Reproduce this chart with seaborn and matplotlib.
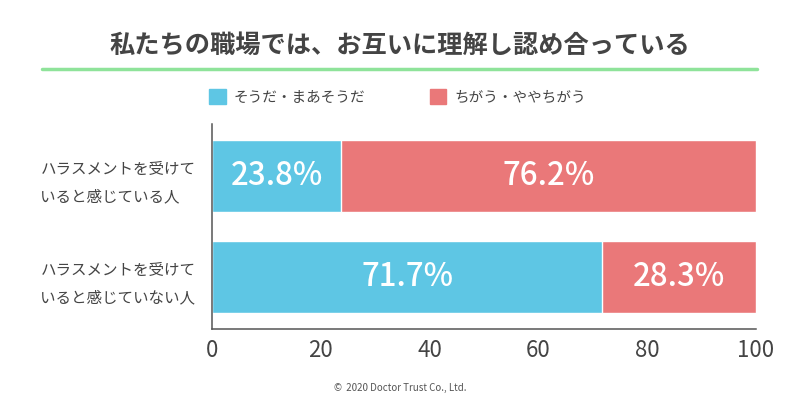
import pandas as pd
import matplotlib
matplotlib.use("Agg")
import matplotlib.pyplot as plt
import matplotlib.patches as mpatches
import matplotlib.lines as mlines
import seaborn as sns

# データ
groups = ["ハラスメントを受けて\nいると感じている人", "ハラスメントを受けて\nいると感じていない人"]
agree = [23.8, 71.7]
disagree = [76.2, 28.3]
series_names = ["そうだ・まあそうだ", "ちがう・ややちがう"]
ticks = [0, 20, 40, 60, 80, 100]

blue = "#5EC6E4"
red = "#EA7879"
text_c = "#444444"

sns.set_theme(style="white")
plt.rcParams['font.family'] = ['Noto Sans CJK JP', 'DejaVu Sans']

df = pd.DataFrame({"group": groups, "agree": agree, "disagree": disagree})
df["total"] = df["agree"] + df["disagree"]

fig = plt.figure(figsize=(8, 3.98), dpi=100)
ax = fig.add_axes([0.265, 0.173, 0.68, 0.515])

# 積み上げ：合計を赤で描き、その上に青を重ねる
sns.barplot(data=df, x="total", y="group", color=red, width=0.71,
            saturation=1, ax=ax, orient="h")
sns.barplot(data=df, x="agree", y="group", color=blue, width=0.71,
            saturation=1, ax=ax, orient="h")

for i, (a, d) in enumerate(zip(agree, disagree)):
    ax.text(a / 2, i, f"{a}%", ha="center", va="center", color="white",
            fontsize=22.5, fontweight="medium")
    ax.text(a + d / 2, i, f"{d}%", ha="center", va="center", color="white",
            fontsize=22.5, fontweight="medium")

ax.set_xlim(0, 100)
ax.set_ylim(1.515, -0.515)
ax.set_xticks(ticks)
ax.set_xticklabels([str(t) for t in ticks])
ax.set_xlabel("")
ax.set_ylabel("")
for s in ["top", "right"]:
    ax.spines[s].set_visible(False)
for s in ["left", "bottom"]:
    ax.spines[s].set_color("#555555")
    ax.spines[s].set_linewidth(1.1)
ax.tick_params(axis="x", direction="in", length=4, width=1, color="#888888",
               labelsize=16, labelcolor=text_c, pad=7)
ax.tick_params(axis="y", length=0, labelsize=11.2, labelcolor=text_c, pad=12)
for lab in ax.get_yticklabels():
    lab.set_multialignment("left")
    lab.set_linespacing(1.75)

# タイトル
fig.text(0.5, 0.887, "私たちの職場では、お互いに理解し認め合っている",
         ha="center", va="center", fontsize=18.2, fontweight="bold", color=text_c)
fig.add_artist(mlines.Line2D([42 / 800, 757 / 800], [1 - 69 / 398, 1 - 69 / 398],
                             color="#8FE39A", linewidth=2.5))

# 凡例
handles = [mpatches.Patch(color=blue, label=series_names[0]),
           mpatches.Patch(color=red, label=series_names[1])]
fig.legend(handles=handles, loc="center", bbox_to_anchor=(0.497, 1 - 97 / 398),
           ncol=2, frameon=False, fontsize=10.5, handlelength=1.15,
           handleheight=1.15, handletextpad=0.55, columnspacing=4.4,
           labelcolor=text_c)

fig.text(0.5, 1 - 388 / 398, "©  2020 Doctor Trust Co., Ltd.", ha="center",
         va="center", fontsize=7, color="#555555")

fig.savefig("out.png", dpi=100)
